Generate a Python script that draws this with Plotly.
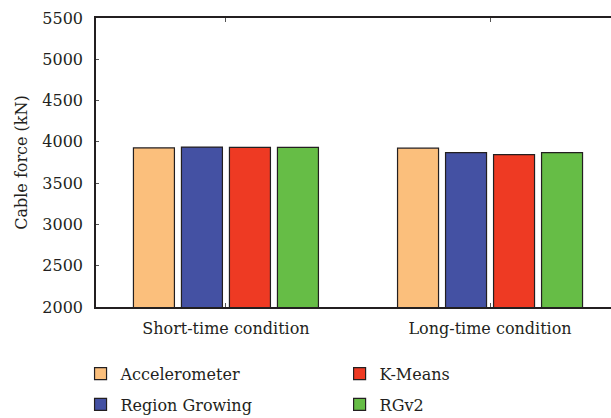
import plotly.graph_objects as go

# Conditions on the x axis
conditions = ["Short-time condition", "Long-time condition"]

# Cable force (kN) estimated by each method
accelerometer = [3927, 3924]
region_growing = [3937, 3870]
k_means = [3934, 3846]
rgv2 = [3934, 3870]

# name, values, fill colour, legend box (two columns)
series = [
    ("Accelerometer", accelerometer, "#fbbf7c", "legend"),
    ("Region Growing", region_growing, "#4451a3", "legend"),
    ("K-Means", k_means, "#ee3a23", "legend2"),
    ("RGv2", rgv2, "#66bd46", "legend2"),
]

y_ticks = [2000, 2500, 3000, 3500, 4000, 4500, 5000, 5500]

ink = "#231f20"
font_family = "DejaVu Serif, serif"
fs = 16

fig = go.Figure()
for name, values, color, leg in series:
    fig.add_trace(go.Bar(
        x=conditions,
        y=values,
        name=name,
        legend=leg,
        legendgroup=name,
        marker=dict(color=color, line=dict(color=ink, width=1.2)),
    ))

legend_style = dict(
    orientation="v",
    xanchor="left",
    y=-0.172,
    yanchor="top",
    tracegroupgap=7,
    font=dict(family=font_family, size=fs, color=ink),
    bgcolor="rgba(0,0,0,0)",
)

fig.update_layout(
    width=611,
    height=418,
    margin=dict(l=96, r=0, t=18, b=111, autoexpand=False),
    paper_bgcolor="white",
    plot_bgcolor="white",
    barmode="group",
    bargap=0.273,
    bargroupgap=0.146,
    font=dict(family=font_family, size=fs, color=ink),
    showlegend=True,
    legend=dict(x=-0.03, **legend_style),
    legend2=dict(x=0.473, **legend_style),
)

fig.update_xaxes(
    type="category",
    range=[-0.492, 1.458],
    showline=True,
    linecolor=ink,
    linewidth=1.5,
    mirror="ticks",
    ticks="inside",
    ticklen=4,
    tickwidth=1,
    tickcolor="#555555",
    ticklabelstandoff=6,
    showgrid=False,
    zeroline=False,
    tickfont=dict(family=font_family, size=fs, color=ink),
)

fig.update_yaxes(
    range=[2000, 5500],
    tickvals=y_ticks,
    ticktext=[str(v) for v in y_ticks],
    showline=True,
    linecolor=ink,
    linewidth=1.5,
    mirror=False,
    ticks="inside",
    ticklen=3,
    tickwidth=1,
    tickcolor="#555555",
    ticklabelstandoff=8,
    showgrid=False,
    zeroline=False,
    tickfont=dict(family=font_family, size=fs, color=ink),
    title=dict(text="Cable force (kN)", font=dict(family=font_family, size=fs, color=ink), standoff=11),
)

fig.write_html("out.html")
